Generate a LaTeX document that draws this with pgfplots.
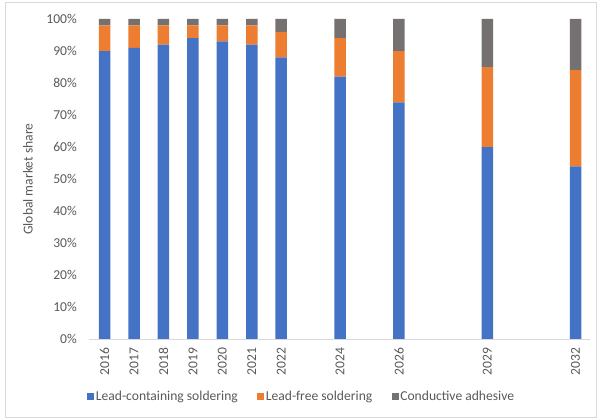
\documentclass[border=0pt]{standalone}
\usepackage{pgfplots}
\pgfplotsset{compat=1.18}
\usepackage{fontspec}
\setmainfont{Carlito}
\definecolor{leadblue}{HTML}{4472C4}
\definecolor{freeorange}{HTML}{ED7D31}
\definecolor{adhgray}{HTML}{767171}
\definecolor{txtgray}{HTML}{595959}
\definecolor{axgray}{HTML}{D9D9D9}
\pgfplotsset{sqlegend/.style={legend image code/.code={\fill[#1] (0pt,-3.5pt) rectangle (7pt,3.5pt);}}}
\begin{document}
\begin{tikzpicture}[font=\fontsize{13.6}{16}\selectfont, text=txtgray]
\useasboundingbox (-89pt,-79.7pt) rectangle (511pt,339.3pt);
\draw[axgray, line width=1pt] (-83pt,-78.5pt) rectangle (507.5pt,336.3pt);
\begin{axis}[
  at={(0pt,0pt)}, anchor=south west,
  scale only axis, width=501pt, height=320.3pt,
  xmin=2015.47, xmax=2032.49, ymin=0, ymax=100,
  ybar stacked, bar width=11.5pt,
  xtick={2016,2017,2018,2019,2020,2021,2022,2024,2026,2029,2032},
  xticklabels={2016,2017,2018,2019,2020,2021,2022,2024,2026,2029,2032},
  xticklabel style={rotate=90, anchor=east, inner sep=0pt, text=txtgray},
  xticklabel shift=8.5pt,
  ytick={0,10,20,30,40,50,60,70,80,90,100},
  yticklabels={0\%,10\%,20\%,30\%,40\%,50\%,60\%,70\%,80\%,90\%,100\%},
  yticklabel style={anchor=east, inner sep=0pt, text=txtgray},
  yticklabel shift=12pt,
  ylabel={Global market share},
  every axis y label/.style={at={(axis description cs:0,0.5)}, xshift=-61pt, rotate=90, anchor=center, text=txtgray},
  axis line style={draw=none},
  major tick length=0pt,
  legend columns=3,
  legend cell align=left,
  legend style={at={(0.4242,-0.1801)}, anchor=center, draw=none, fill=none, inner sep=0pt,
    nodes={inner sep=1.5pt, text=txtgray},
    /tikz/column 2/.style={column sep=18pt},
    /tikz/column 4/.style={column sep=18pt}},
]
\draw[axgray, line width=1pt] (rel axis cs:0,0) -- (rel axis cs:1,0);
\addplot[fill=leadblue, draw=none, sqlegend=leadblue] coordinates {(2016,90) (2017,91) (2018,92) (2019,94) (2020,93) (2021,92) (2022,88) (2024,82) (2026,74) (2029,60) (2032,54)};
\addplot[fill=freeorange, draw=none, sqlegend=freeorange] coordinates {(2016,8) (2017,7) (2018,6) (2019,4) (2020,5) (2021,6) (2022,8) (2024,12) (2026,16) (2029,25) (2032,30)};
\addplot[fill=adhgray, draw=none, sqlegend=adhgray] coordinates {(2016,2) (2017,2) (2018,2) (2019,2) (2020,2) (2021,2) (2022,4) (2024,6) (2026,10) (2029,15) (2032,16)};
\legend{Lead-containing soldering, Lead-free soldering, Conductive adhesive}
\end{axis}
\end{tikzpicture}
\end{document}
